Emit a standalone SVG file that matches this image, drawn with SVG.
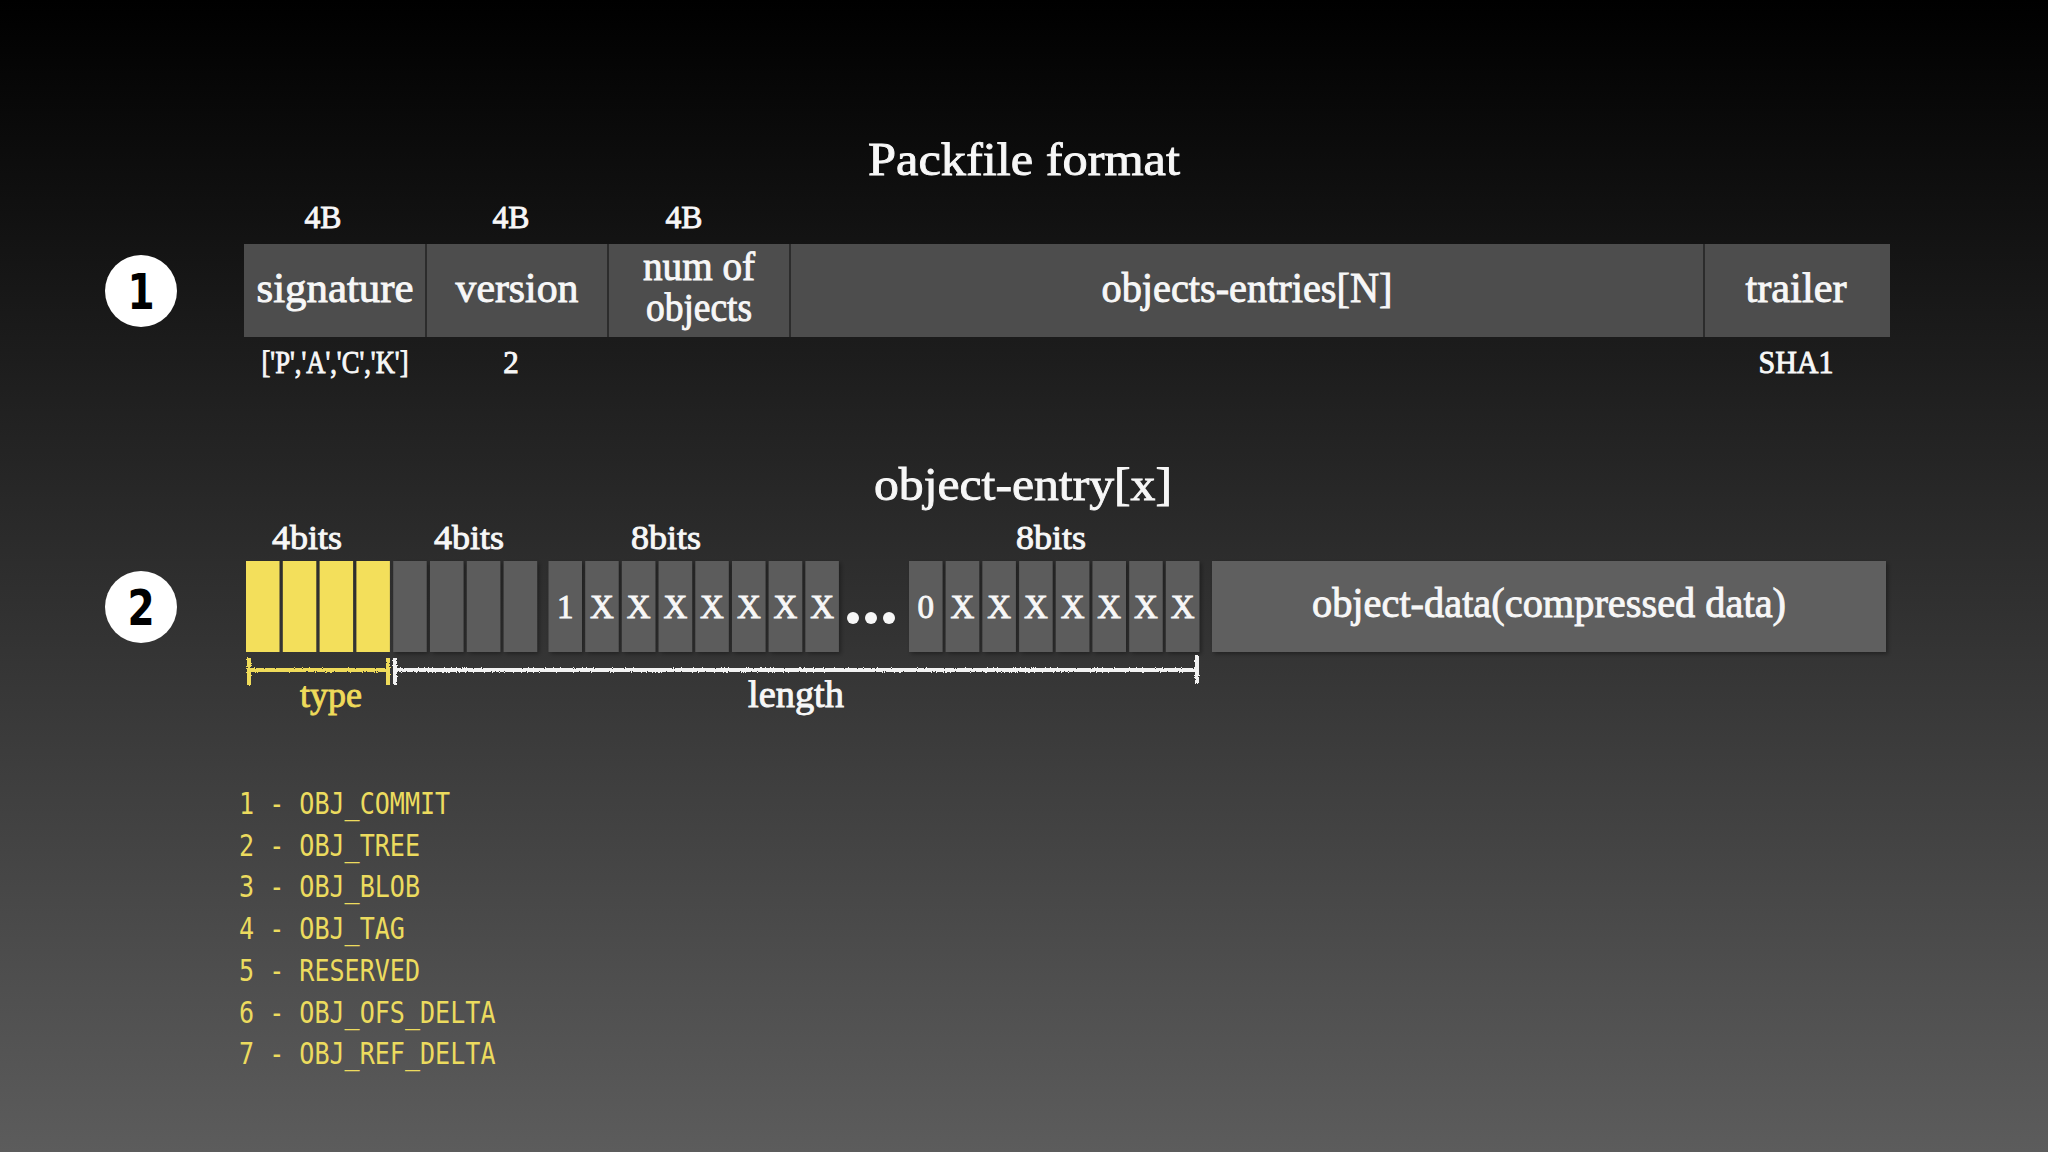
<svg xmlns="http://www.w3.org/2000/svg" width="2048" height="1152" viewBox="0 0 2048 1152">
<defs>
<linearGradient id="bg" x1="0" y1="0" x2="0" y2="1">
<stop offset="0" stop-color="#000000"/>
<stop offset="1" stop-color="#5c5c5c"/>
</linearGradient>
<filter id="chalk" x="-5%" y="-50%" width="110%" height="200%">
<feTurbulence type="fractalNoise" baseFrequency="0.9" numOctaves="2" seed="3" result="n"/>
<feDisplacementMap in="SourceGraphic" in2="n" scale="3" xChannelSelector="R" yChannelSelector="G"/>
</filter>
<filter id="sh" x="-10%" y="-10%" width="130%" height="130%">
<feDropShadow dx="2" dy="2" stdDeviation="2" flood-color="#000" flood-opacity="0.35"/>
</filter>
</defs>
<style>
.t{font-family:"Liberation Serif","DejaVu Serif",serif;fill:#f7f7f7;stroke:#f7f7f7;stroke-width:0.9px;text-anchor:middle}
.h1{font-size:47px}
.lbl{font-size:42px}
.lbl2{font-size:39px}
.sm{font-size:31px}
.bits{font-size:34px}
.cx{font-size:33px}
.num{font-family:"DejaVu Sans","Liberation Sans",sans-serif;font-weight:bold;font-size:50px;fill:#000;text-anchor:middle}
.box{fill:#4d4d4d}
.div{stroke:#2c2c2c;stroke-width:2}
.y{fill:#f3df5b}
.g{fill:#5b5b5b}
.od{fill:#5e5e5e}
.mono{font-family:"DejaVu Sans Mono","Liberation Mono",monospace;font-size:30px;fill:#ecdb5e}
.yl{fill:#efdb5a;stroke:#efdb5a}
</style>
<rect x="0" y="0" width="2048" height="1152" fill="url(#bg)"/>

<text class="t h1" x="1024" y="175" textLength="312" lengthAdjust="spacingAndGlyphs">Packfile format</text>

<g id="badge1">
<circle cx="141" cy="291" r="36" fill="#ffffff"/>
<text class="num" x="0" y="309" transform="translate(141,0) scale(0.78,1)">1</text>
</g>

<g id="packfile-row">
<rect class="box" x="244" y="244" width="1646" height="93"/>
<line class="div" x1="426" y1="244" x2="426" y2="337"/>
<line class="div" x1="608" y1="244" x2="608" y2="337"/>
<line class="div" x1="790" y1="244" x2="790" y2="337"/>
<line class="div" x1="1704" y1="244" x2="1704" y2="337"/>
</g>
<g id="signature">
<text class="t sm" x="323" y="228" textLength="37" lengthAdjust="spacingAndGlyphs">4B</text>
<text class="t lbl" x="335" y="302" textLength="157" lengthAdjust="spacingAndGlyphs">signature</text>
<text class="t sm" x="335" y="373" textLength="147" lengthAdjust="spacingAndGlyphs">['P','A','C','K']</text>
</g>
<g id="version">
<text class="t sm" x="511" y="228" textLength="37" lengthAdjust="spacingAndGlyphs">4B</text>
<text class="t lbl" x="517" y="302" textLength="123" lengthAdjust="spacingAndGlyphs">version</text>
<text class="t sm" x="511" y="373">2</text>
</g>
<g id="num-objects">
<text class="t sm" x="684" y="228" textLength="37" lengthAdjust="spacingAndGlyphs">4B</text>
<text class="t lbl2" x="699" y="280" textLength="112" lengthAdjust="spacingAndGlyphs">num of</text>
<text class="t lbl2" x="699" y="321" textLength="106" lengthAdjust="spacingAndGlyphs">objects</text>
</g>
<g id="objects-entries">
<text class="t lbl" x="1247" y="302" textLength="291" lengthAdjust="spacingAndGlyphs">objects-entries[N]</text>
</g>
<g id="trailer">
<text class="t lbl" x="1796" y="302" textLength="101" lengthAdjust="spacingAndGlyphs">trailer</text>
<text class="t sm" x="1796" y="373" textLength="75" lengthAdjust="spacingAndGlyphs">SHA1</text>
</g>

<text class="t h1" x="1023" y="500" textLength="298" lengthAdjust="spacingAndGlyphs">object-entry[x]</text>

<g id="badge2">
<circle cx="141" cy="607" r="36" fill="#ffffff"/>
<text class="num" x="0" y="625" transform="translate(141,0) scale(0.78,1)">2</text>
</g>

<g id="type-bits">
<text class="t bits" x="307" y="549" textLength="70" lengthAdjust="spacingAndGlyphs">4bits</text>
<rect class="y" x="246" y="561" width="33.5" height="91"/>
<rect class="y" x="282.8" y="561" width="33.5" height="91"/>
<rect class="y" x="319.6" y="561" width="33.5" height="91"/>
<rect class="y" x="356.4" y="561" width="33.5" height="91"/>
</g>
<g id="len-bits">
<text class="t bits" x="469" y="549" textLength="70" lengthAdjust="spacingAndGlyphs">4bits</text>
<rect class="g" x="393.2" y="561" width="33.5" height="91" filter="url(#sh)"/>
<rect class="g" x="430" y="561" width="33.5" height="91" filter="url(#sh)"/>
<rect class="g" x="466.8" y="561" width="33.5" height="91" filter="url(#sh)"/>
<rect class="g" x="503.6" y="561" width="33.5" height="91" filter="url(#sh)"/>
</g>
<g id="byte1">
<text class="t bits" x="666" y="549" textLength="70" lengthAdjust="spacingAndGlyphs">8bits</text>
<g filter="url(#sh)">
<rect class="g" x="548.5" y="561" width="33.5" height="91"/>
<rect class="g" x="585.2" y="561" width="33.5" height="91"/>
<rect class="g" x="621.9" y="561" width="33.5" height="91"/>
<rect class="g" x="658.6" y="561" width="33.5" height="91"/>
<rect class="g" x="695.3" y="561" width="33.5" height="91"/>
<rect class="g" x="732" y="561" width="33.5" height="91"/>
<rect class="g" x="768.7" y="561" width="33.5" height="91"/>
<rect class="g" x="805.4" y="561" width="33.5" height="91"/>
</g>
<text class="t cx" x="565.2" y="618">1</text>
<text class="t cx" x="602" y="618">X</text>
<text class="t cx" x="638.6" y="618">X</text>
<text class="t cx" x="675.4" y="618">X</text>
<text class="t cx" x="712" y="618">X</text>
<text class="t cx" x="748.8" y="618">X</text>
<text class="t cx" x="785.4" y="618">X</text>
<text class="t cx" x="822.2" y="618">X</text>
</g>
<g id="ellipsis">
<circle cx="853" cy="618" r="6" fill="#f7f7f7"/>
<circle cx="871" cy="618" r="6" fill="#f7f7f7"/>
<circle cx="889" cy="618" r="6" fill="#f7f7f7"/>
</g>
<g id="byte-last">
<text class="t bits" x="1051" y="549" textLength="70" lengthAdjust="spacingAndGlyphs">8bits</text>
<g filter="url(#sh)">
<rect class="g" x="909" y="561" width="33.5" height="91"/>
<rect class="g" x="945.7" y="561" width="33.5" height="91"/>
<rect class="g" x="982.4" y="561" width="33.5" height="91"/>
<rect class="g" x="1019.1" y="561" width="33.5" height="91"/>
<rect class="g" x="1055.8" y="561" width="33.5" height="91"/>
<rect class="g" x="1092.5" y="561" width="33.5" height="91"/>
<rect class="g" x="1129.2" y="561" width="33.5" height="91"/>
<rect class="g" x="1165.9" y="561" width="33.5" height="91"/>
</g>
<text class="t cx" x="925.8" y="618">0</text>
<text class="t cx" x="962.4" y="618">X</text>
<text class="t cx" x="999.2" y="618">X</text>
<text class="t cx" x="1035.8" y="618">X</text>
<text class="t cx" x="1072.6" y="618">X</text>
<text class="t cx" x="1109.2" y="618">X</text>
<text class="t cx" x="1146" y="618">X</text>
<text class="t cx" x="1182.6" y="618">X</text>
</g>
<g id="object-data">
<rect class="od" x="1212" y="561" width="674" height="91" filter="url(#sh)"/>
<text class="t lbl" x="1549" y="617" textLength="474" lengthAdjust="spacingAndGlyphs">object-data(compressed data)</text>
</g>

<g id="connectors" fill="none" stroke-linecap="square" filter="url(#chalk)">
<path d="M249 670 H388 M249 660 V683 M388 660 V683" stroke="#efdb5a" stroke-width="4"/>
<path d="M395 670 H1197 M395 660 V683 M1197 657 V681" stroke="#f2f2f2" stroke-width="4"/>
</g>
<text class="t yl" x="331" y="707" font-size="36" textLength="62" lengthAdjust="spacingAndGlyphs">type</text>
<text class="t" x="796" y="707" font-size="37" textLength="96" lengthAdjust="spacingAndGlyphs">length</text>

<g id="type-list" transform="translate(239,0) scale(0.836,1)">
<text class="mono" x="0" y="814">1 - OBJ_COMMIT</text>
<text class="mono" x="0" y="856">2 - OBJ_TREE</text>
<text class="mono" x="0" y="897">3 - OBJ_BLOB</text>
<text class="mono" x="0" y="939">4 - OBJ_TAG</text>
<text class="mono" x="0" y="981">5 - RESERVED</text>
<text class="mono" x="0" y="1023">6 - OBJ_OFS_DELTA</text>
<text class="mono" x="0" y="1064">7 - OBJ_REF_DELTA</text>
</g>
</svg>
